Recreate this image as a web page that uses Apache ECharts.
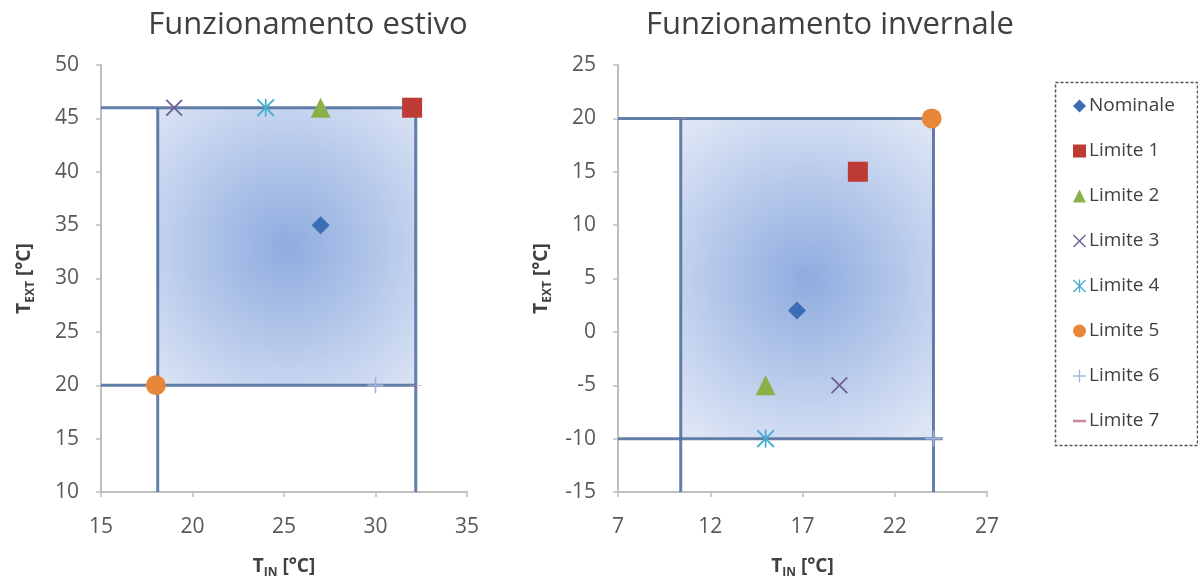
<!DOCTYPE html>
<html>
<head>
<meta charset="utf-8">
<script src="https://cdn.jsdelivr.net/npm/echarts@6/dist/echarts.min.js"></script>
<style>
  html, body { margin: 0; padding: 0; background: #ffffff; }
  #chart { width: 1198px; height: 585px; }
</style>
</head>
<body>
<div id="chart"></div>
<script>
// ---- data ----
const seriesNames = ['Nominale', 'Limite 1', 'Limite 2', 'Limite 3', 'Limite 4', 'Limite 5', 'Limite 6', 'Limite 7'];
// summer operation points [T_IN, T_EXT]
const summerPoints = [[27, 35], [32, 46], [27, 46], [19, 46], [24, 46], [18, 20], [30, 20], [32.2, 20]];
// winter operation points [T_IN, T_EXT]
const winterPoints = [[16.7, 2], [20, 15], [15, -5], [19, -5], [15, -10], [24, 20], [24.1, -10], [10.4, 20]];
// operating envelope (x range, y range)
const summerBoxX = [18.1, 32.2];
const summerBoxY = [20, 46];
const winterBoxX = [10.4, 24.1];
const winterBoxY = [-10, 20];
// boundary lines
const summerLines = [
  [[15, 46], [32.2, 46]],
  [[15, 20], [32.2, 20]],
  [[18.1, 10], [18.1, 46]],
  [[32.2, 10], [32.2, 46]]
];
const winterLines = [
  [[7, 20], [24.1, 20]],
  [[7, -10], [24.6, -10]],
  [[10.4, -15], [10.4, 20]],
  [[24.1, -15], [24.1, 20]]
];
// axes
const summerX = { min: 15, max: 35, interval: 5 };
const summerY = { min: 10, max: 50, interval: 5 };
const winterX = { min: 7, max: 27, interval: 5 };
const winterY = { min: -15, max: 25, interval: 5 };
const titles = ['Funzionamento estivo', 'Funzionamento invernale'];

// ---- styles ----
const colors = ['#3d6db5', '#be3b35', '#8cb048', '#6f5f92', '#4aaed0', '#e8873a', '#9fb4d8', '#c98a9e'];
const PATH_X = 'path://M0,1.5L1.5,0L10,8.5L18.5,0L20,1.5L11.5,10L20,18.5L18.5,20L10,11.5L1.5,20L0,18.5L8.5,10Z';
const PATH_STAR = 'path://M0,1.5L1.5,0L10,8.5L18.5,0L20,1.5L11.5,10L20,18.5L18.5,20L10,11.5L1.5,20L0,18.5L8.5,10Z M9,0L11,0L11,20L9,20Z';
const PATH_PLUS = 'path://M9,0L11,0L11,9L20,9L20,11L11,11L11,20L9,20L9,11L0,11L0,9L9,9Z';
const PATH_DASH = 'path://M0,0L20,0L20,4L0,4Z';
const symbols = ['diamond', 'rect', 'triangle', PATH_X, PATH_STAR, 'circle', PATH_PLUS, PATH_DASH];
const sizes = [18, 20, 20, 17, 18, 20, 16, [12, 3]];

const FONT = 'Open Sans';
const txt = '#404040';
const tick = '#595959';
const axisCol = '#bfbfbf';
const lineCol = '#52709e';

const gradient = {
  type: 'radial', x: 0.5, y: 0.5, r: 0.75,
  colorStops: [
    { offset: 0, color: '#8eabdf' },
    { offset: 1, color: '#dde5f5' }
  ]
};

const nameRich = {
  b: { fontFamily: FONT, fontWeight: 'bold', fontSize: 19, color: txt, lineHeight: 24 },
  s: { fontFamily: FONT, fontWeight: 'bold', fontSize: 12, color: txt, lineHeight: 24, verticalAlign: 'bottom', padding: [6, 0, 0, 0] }
};

function xAxisDef(idx, rng) {
  return {
    type: 'value', gridIndex: idx, min: rng.min, max: rng.max, interval: rng.interval,
    name: '{b|T}{s|IN}{b| [°C]}', nameLocation: 'middle', nameGap: 63,
    nameTextStyle: { rich: nameRich },
    axisLine: { onZero: false, lineStyle: { color: axisCol, width: 2 } },
    axisTick: { show: true, length: 5, lineStyle: { color: axisCol, width: 1.5 } },
    axisLabel: { fontFamily: FONT, fontSize: 21, color: tick, margin: 25 },
    splitLine: { show: false }
  };
}
function yAxisDef(idx, rng) {
  return {
    type: 'value', gridIndex: idx, min: rng.min, max: rng.max, interval: rng.interval,
    name: '{b|T}{s|EXT}{b| [°C]}', nameLocation: 'middle', nameGap: 64, nameRotate: 90,
    nameTextStyle: { rich: nameRich },
    axisLine: { onZero: false, lineStyle: { color: axisCol, width: 2 } },
    axisTick: { show: true, length: 5, lineStyle: { color: axisCol, width: 1.5 } },
    axisLabel: { fontFamily: FONT, fontSize: 21, color: tick, margin: 22 },
    splitLine: { show: false }
  };
}

const series = [];
function addChart(idx, points, boxX, boxY, lines) {
  series.push({
    type: 'line', xAxisIndex: idx, yAxisIndex: idx, data: [], silent: true, z: 1,
    markArea: {
      silent: true,
      itemStyle: { color: gradient, borderWidth: 0 },
      data: [[{ coord: [boxX[0], boxY[0]] }, { coord: [boxX[1], boxY[1]] }]]
    }
  });
  lines.forEach(seg => {
    series.push({
      type: 'line', xAxisIndex: idx, yAxisIndex: idx, data: seg, symbol: 'none', silent: true, z: 2,
      lineStyle: { color: lineCol, width: 3, opacity: 0.9 }
    });
  });
  seriesNames.forEach((n, i) => {
    series.push({
      type: 'scatter', name: n, xAxisIndex: idx, yAxisIndex: idx, z: 3,
      data: [points[i]], symbol: symbols[i], symbolSize: sizes[i], symbolKeepAspect: true,
      itemStyle: { color: colors[i], opacity: 1 }
    });
  });
}
addChart(0, summerPoints, summerBoxX, summerBoxY, summerLines);
addChart(1, winterPoints, winterBoxX, winterBoxY, winterLines);

const option = {
  animation: false,
  backgroundColor: '#ffffff',
  title: [
    { text: titles[0], left: 303, top: 5, textAlign: 'center', textStyle: { fontFamily: FONT, fontSize: 31, fontWeight: 'normal', color: txt } },
    { text: titles[1], left: 825, top: 5, textAlign: 'center', textStyle: { fontFamily: FONT, fontSize: 31, fontWeight: 'normal', color: txt } }
  ],
  grid: [
    { left: 101, top: 65, width: 366, height: 427 },
    { left: 618, top: 65, width: 369, height: 427 }
  ],
  xAxis: [xAxisDef(0, summerX), xAxisDef(1, winterX)],
  yAxis: [yAxisDef(0, summerY), yAxisDef(1, winterY)],
  legend: {
    orient: 'vertical', left: 1068, top: 91,
    data: seriesNames,
    itemWidth: 13, itemHeight: 13, itemGap: 25,
    textStyle: { fontFamily: FONT, fontSize: 19, color: txt, lineHeight: 20, padding: [0, 0, 0, -2] },
    selectedMode: false
  },
  graphic: [{
    type: 'rect', left: 1053, top: 80, silent: true,
    shape: { width: 142, height: 363 },
    style: { fill: 'none', stroke: '#555555', lineWidth: 1.5, lineDash: [3, 2] }
  }],
  series: series
};

const chart = echarts.init(document.getElementById('chart'), null, { renderer: 'canvas' });
chart.setOption(option);
</script>
</body>
</html>
